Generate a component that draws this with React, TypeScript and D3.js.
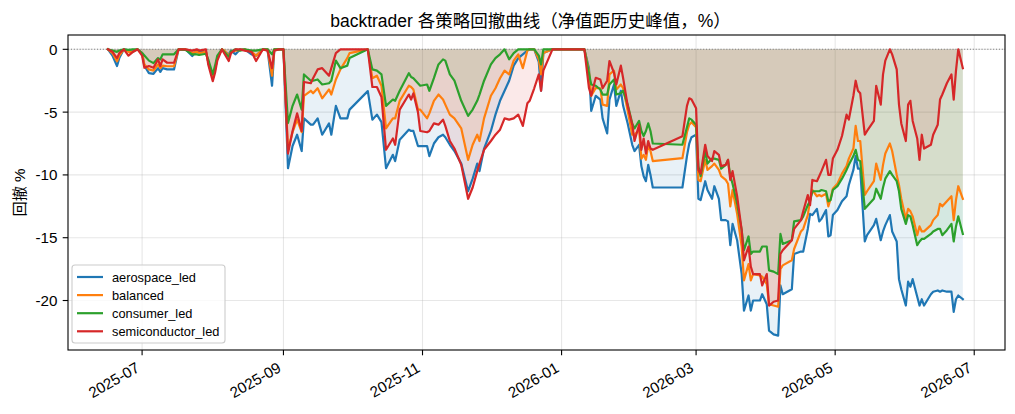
import React from "react";
import * as d3 from "d3";

// trading days
const dates = [
  "2025-06-16","2025-06-18","2025-06-20","2025-06-21","2025-06-23","2025-06-25","2025-06-27","2025-06-29",
  "2025-07-01","2025-07-02","2025-07-04","2025-07-06","2025-07-08","2025-07-09","2025-07-10","2025-07-12",
  "2025-07-15","2025-07-17","2025-07-20","2025-07-23","2025-07-25","2025-07-26","2025-07-29","2025-07-30",
  "2025-08-01","2025-08-02","2025-08-03","2025-08-05","2025-08-06","2025-08-08","2025-08-09","2025-08-11",
  "2025-08-13","2025-08-15","2025-08-18","2025-08-20","2025-08-23","2025-08-25","2025-08-27","2025-08-28",
  "2025-08-30","2025-09-01","2025-09-03","2025-09-05","2025-09-07","2025-09-09","2025-09-10","2025-09-13",
  "2025-09-14","2025-09-16","2025-09-18","2025-09-21","2025-09-22","2025-09-24","2025-09-26","2025-09-29",
  "2025-09-30","2025-10-08","2025-10-10","2025-10-12","2025-10-14","2025-10-16","2025-10-19","2025-10-20",
  "2025-10-22","2025-10-26","2025-10-27","2025-10-28","2025-10-30","2025-10-31","2025-11-03","2025-11-04",
  "2025-11-06","2025-11-08","2025-11-10","2025-11-11","2025-11-13","2025-11-15","2025-11-18","2025-11-21",
  "2025-11-23","2025-11-25","2025-11-26","2025-11-28","2025-12-01","2025-12-03","2025-12-05","2025-12-07",
  "2025-12-09","2025-12-11","2025-12-13","2025-12-15","2025-12-17","2025-12-18","2025-12-20","2025-12-22",
  "2025-12-23","2025-12-24","2025-12-28","2026-01-11","2026-01-13","2026-01-14","2026-01-16","2026-01-18",
  "2026-01-19","2026-01-21","2026-01-22","2026-01-24","2026-01-25","2026-01-27","2026-01-28","2026-01-30",
  "2026-02-01","2026-02-02","2026-02-04","2026-02-05","2026-02-06","2026-02-07","2026-02-08","2026-02-09",
  "2026-02-10","2026-02-23","2026-02-25","2026-02-26","2026-02-27","2026-03-01","2026-03-02","2026-03-03",
  "2026-03-05","2026-03-06","2026-03-08","2026-03-09","2026-03-11","2026-03-12","2026-03-14","2026-03-15",
  "2026-03-16","2026-03-17","2026-03-19","2026-03-21","2026-03-22","2026-03-24","2026-03-25","2026-03-26",
  "2026-03-29","2026-03-30","2026-04-01","2026-04-02","2026-04-04","2026-04-06","2026-04-07","2026-04-08",
  "2026-04-12","2026-04-13","2026-04-16","2026-04-17","2026-04-19","2026-04-20","2026-04-21","2026-04-23",
  "2026-04-24","2026-04-25","2026-04-27","2026-04-28","2026-04-29","2026-04-30","2026-05-02","2026-05-04",
  "2026-05-06","2026-05-07","2026-05-09","2026-05-10","2026-05-11","2026-05-12","2026-05-14","2026-05-15",
  "2026-05-18","2026-05-19","2026-05-21","2026-05-22","2026-05-23","2026-05-25","2026-05-26","2026-05-28",
  "2026-05-29","2026-05-30","2026-06-01","2026-06-02","2026-06-03","2026-06-04","2026-06-06","2026-06-07",
  "2026-06-08","2026-06-09","2026-06-12","2026-06-13","2026-06-15","2026-06-16","2026-06-17","2026-06-19",
  "2026-06-21","2026-06-22","2026-06-23","2026-06-24","2026-06-26",
];

const aerospace = [
  0,-0.5,-1.33,-0.7,0,-0.1,-0.2,0,
  -0.3,-1.3,-1.9,-1.95,-1.5,-1.8,-1.5,-1.6,
  -1.6,0,0,-0.53,-0.1,-0.2,-0.2,-1.0,
  -2.3,-1.6,-0.7,0,-0.2,-0.4,-0.1,-0.4,
  0,0,-0.4,-0.5,0,0,-2.9,0,
  0,0,-9.47,-7.7,-6.8,-8.1,-5.5,-6.0,
  -6.0,-5.5,-6.8,-5.9,-6.8,-4.5,-5.5,-5.5,
  -4.8,-3.33,-5.6,-5.2,-5.8,-9.47,-8.4,-8.9,
  -7.2,-6.4,-6.5,-6.5,-7.7,-7.7,-7.7,-8.5,
  -7.5,-7.0,-6.8,-7.0,-7.6,-8.1,-9.1,-11.3,
  -10.3,-9.1,-9.7,-7.9,-6.5,-5.2,-4.1,-3.3,
  -2.5,-1.3,-0.7,-0.4,-0.1,0,0,-1.0,
  -3.3,-0.3,0,0,-1.5,-4.9,-3.7,-4.0,
  -5.5,-6.7,-4.0,-2.8,-4.5,-3.3,-4.5,-5.9,
  -7.6,-8.1,-7.6,-9.3,-10.1,-10.5,-9.2,-10.0,
  -11.0,-11.0,-8.5,-7.5,-7.0,-6.8,-11.9,-12.0,
  -10.5,-11.2,-11.9,-10.9,-11.9,-13.6,-13.6,-13.7,
  -15.6,-13.9,-15.2,-17.9,-20.8,-19.6,-20.8,-20.0,
  -20.0,-19.5,-20.3,-22.4,-22.7,-22.8,-18.8,-19.5,
  -19.1,-16.3,-16.1,-16.1,-14.3,-13.1,-13.2,-12.7,
  -13.7,-13.5,-12.8,-14.9,-14.8,-13.2,-12.8,-12.1,
  -11.7,-10.8,-9.6,-8.5,-9.5,-9.5,-15.3,-14.8,
  -14.0,-13.5,-15.2,-14.5,-14.0,-13.2,-14.5,-15.3,
  -18.3,-19.1,-20.4,-18.5,-18.9,-18.3,-19.7,-20.4,
  -19.9,-20.4,-19.5,-19.3,-19.2,-19.3,-19.2,-19.3,
  -19.3,-20.9,-19.9,-19.6,-19.9,
];

const balanced = [
  0,-0.3,-0.95,-0.5,0,-0.2,-0.2,0,
  -0.3,-1.2,-1.6,-1.7,-1.2,-1.5,-1.3,-1.35,
  -1.35,0,0,-0.3,-0.2,-0.3,-0.2,-1.0,
  -2.3,-1.6,-0.7,0,-0.1,-0.5,-0.2,-0.1,
  -0.05,0,-0.2,-0.5,0,0,-2.1,0,
  0,0,-8.0,-6.6,-5.6,-6.6,-3.7,-3.3,
  -3.5,-3.1,-3.9,-3.2,-3.6,-2.4,-1.6,-0.7,
  -0.3,0,-2.3,-2.1,-2.9,-6.3,-5.5,-5.5,
  -4.1,-2.9,-3.0,-3.2,-4.8,-4.8,-5.5,-5.1,
  -4.1,-3.6,-4.0,-4.4,-5.2,-5.5,-6.3,-8.8,
  -7.6,-6.8,-7.3,-5.5,-3.7,-3.1,-2.3,-1.7,
  -2.0,-0.9,-0.4,-1.5,-0.1,0,0,-0.8,
  -2.0,-0.3,0,0,-1.7,-3.7,-3.07,-3.1,
  -4.4,-4.5,-2.0,-1.7,-3.2,-2.8,-3.1,-4.9,
  -6.8,-6.8,-6.4,-8.7,-8.4,-8.8,-7.6,-8.1,
  -8.9,-8.67,-6.6,-6.0,-5.8,-6.2,-10.4,-10.5,
  -8.8,-9.6,-9.3,-9.1,-9.6,-10.1,-10.4,-10.7,
  -12.5,-11.2,-13.1,-15.7,-18.4,-17.1,-18.4,-17.9,
  -18.0,-18.1,-18.7,-20.3,-20.4,-20.5,-17.5,-17.2,
  -16.8,-15.9,-14.5,-14.3,-13.2,-12.0,-11.2,-11.7,
  -11.6,-11.7,-11.5,-12.5,-11.9,-11.1,-10.7,-9.9,
  -9.3,-8.7,-7.9,-6.1,-7.3,-7.3,-11.6,-11.3,
  -10.5,-9.1,-10.4,-9.2,-8.3,-7.5,-8.1,-10.0,
  -10.8,-11.9,-13.5,-12.7,-12.9,-13.3,-14.8,-14.1,
  -14.5,-14.5,-14.0,-13.6,-13.2,-12.3,-12.5,-12.1,
  -11.7,-13.6,-12.0,-10.9,-11.9,
];

const consumer = [
  0,-0.1,-0.2,-0.1,0,-0.05,0,0,
  -0.3,-0.5,-0.9,-1.1,-0.7,-0.8,-0.4,-0.4,
  -0.4,0,-0.05,-0.4,-0.4,-0.45,-0.35,-0.8,
  -2.0,-1.3,-0.5,0,-0.2,-0.6,-0.2,0,
  -0.1,0,-0.1,-0.1,0,0,-0.4,0,
  0,0,-5.87,-4.5,-3.6,-4.8,-2.0,-2.5,
  -2.5,-2.4,-2.8,-2.7,-2.5,-0.9,-1.5,-1.3,
  -0.7,0,-1.6,-1.7,-2.0,-4.5,-4.0,-4.1,
  -3.3,-1.9,-2.2,-2.3,-2.7,-2.9,-2.8,-3.3,
  -2.3,-1.2,-0.8,-0.9,-2.0,-2.5,-4.1,-5.3,
  -4.8,-4.1,-3.6,-2.5,-1.2,-0.7,-0.4,0,
  -0.8,-0.3,0,0,0,0,0,-0.5,
  -1.2,0,0,0,-1.9,-2.8,-2.9,-3.2,
  -3.6,-3.6,-2.8,-2.4,-3.6,-3.5,-3.3,-4.4,
  -5.9,-6.3,-5.7,-6.5,-6.9,-6.5,-5.9,-6.5,
  -7.5,-7.6,-6.2,-5.5,-5.6,-6.0,-9.3,-10.1,
  -8.1,-9.1,-8.7,-8.7,-8.8,-9.5,-9.2,-8.8,
  -10.1,-10.7,-12.3,-14.4,-16.0,-14.9,-16.3,-16.1,
  -16.1,-15.7,-15.7,-17.6,-17.7,-17.9,-14.7,-15.5,
  -15.2,-13.7,-13.6,-13.3,-12.4,-12.1,-11.3,-11.3,
  -11.3,-11.2,-11.3,-12.1,-12.0,-11.2,-10.9,-10.3,
  -9.6,-9.2,-8.5,-8.0,-8.8,-8.9,-12.7,-12.5,
  -11.9,-11.1,-11.9,-11.0,-10.3,-9.7,-10.0,-10.5,
  -11.3,-12.7,-13.9,-13.2,-13.3,-14.0,-15.6,-15.3,
  -15.1,-15.1,-14.7,-14.5,-14.3,-14.3,-14.8,-14.4,
  -13.9,-15.3,-14.1,-13.3,-14.7,
];

const semiconductor = [
  0,-0.2,-0.7,-0.3,0,-0.5,-0.2,0,
  -0.5,-1.47,-1.33,-1.47,-0.8,-1.33,-0.8,-1.07,
  -1.07,0,0,-0.1,0,-0.1,0,-1.2,
  -2.53,-1.87,-0.9,0,-0.3,-0.93,-0.3,0,
  0,-0.1,-0.2,-0.93,0,-0.1,-1.5,-0.1,
  0,0,-8.3,-6.5,-5.1,-6.5,-2.6,-2.7,
  -2.3,-1.6,-1.5,-2.1,-1.5,-0.3,0,0,
  0,0,-3.0,-3.0,-3.8,-8.0,-7.1,-7.6,
  -4.8,-3.6,-4.0,-3.5,-5.0,-6.5,-6.6,-6.5,
  -5.9,-6.0,-5.6,-6.1,-7.3,-7.9,-9.2,-11.9,
  -11.0,-9.7,-9.1,-8.0,-7.3,-6.8,-6.4,-5.5,
  -5.6,-5.5,-5.2,-6.1,-4.3,-4.1,-3.1,-2.0,
  -3.3,-1.7,0,0,-3.07,-3.7,-2.27,-2.4,
  -3.1,-2.5,-0.93,-1.87,-2.8,-1.3,-2.3,-4.5,
  -6.0,-7.3,-6.0,-8.0,-7.1,-8.3,-7.3,-7.9,
  -8.0,-6.93,-4.5,-3.9,-4.0,-4.7,-9.6,-9.9,
  -7.6,-8.5,-8.9,-8.1,-8.4,-9.3,-9.2,-8.8,
  -10.4,-9.7,-11.7,-14.4,-16.8,-15.7,-17.3,-17.9,
  -17.9,-18.8,-17.9,-20.4,-20.1,-20.0,-16.3,-16.0,
  -15.2,-14.3,-13.6,-12.9,-11.6,-12.4,-10.4,-10.5,
  -10.1,-9.7,-8.8,-10.0,-10.0,-8.7,-8.0,-6.9,
  -5.2,-5.6,-3.7,-2.5,-3.3,-3.5,-6.8,-6.5,
  -5.7,-2.9,-4.4,-2.0,-0.9,0,-0.4,-1.6,
  -4.4,-5.9,-7.3,-4.4,-4.1,-5.7,-7.1,-8.8,
  -6.8,-7.9,-7.6,-6.8,-6.0,-4.0,-3.6,-2.7,
  -2.0,-4.0,-1.7,0,-1.5,
];

const seriesNames = ["aerospace_led", "balanced", "consumer_led", "semiconductor_led"];
const seriesValues = [aerospace, balanced, consumer, semiconductor];
const colors = ["#1f77b4", "#ff7f0e", "#2ca02c", "#d62728"];

const yTicks = [0, -5, -10, -15, -20];
const xTickDates = ["2025-07-01", "2025-09-01", "2025-11-01", "2026-01-01", "2026-03-01", "2026-05-01", "2026-07-01"];

const title = "backtrader 各策略回撤曲线（净值距历史峰值，%）";
const yLabel = "回撤 %";

const W = 1015;
const H = 414;
const left = 68, right = 1005, top = 35, bottom = 350;
const font = "'Liberation Sans', 'Noto Sans CJK SC', sans-serif";
const tickLen = 5.3;

export default function App() {
  const parse = d3.timeParse("%Y-%m-%d");
  const xs = dates.map((d) => parse(d) as Date);

  const x = d3.scaleTime()
    .domain([new Date(2025, 4, 29, 12), new Date(2026, 6, 14, 12)])
    .range([left, right]);

  const minV = d3.min(seriesValues.flat()) as number;
  const pad = (0 - minV) * 0.05;
  const y = d3.scaleLinear().domain([minV - pad, pad]).range([bottom, top]);

  const line = d3.line<number>().x((_, i) => x(xs[i])).y((v) => y(v));
  const area = d3.area<number>().x((_, i) => x(xs[i])).y0(y(0)).y1((v) => y(v));
  const fmt = d3.timeFormat("%Y-%m");

  return (
    <svg width={W} height={H} style={{ position: "absolute", left: 0, top: 0, background: "#fff" }} fontFamily={font}>
      <rect x={0} y={0} width={W} height={H} fill="#fff" />
      {/* grid */}
      {yTicks.map((t) => (
        <line key={"gy" + t} x1={left} x2={right} y1={y(t)} y2={y(t)} stroke="#b0b0b0" strokeOpacity={0.3} strokeWidth={1.1} />
      ))}
      {xTickDates.map((t) => {
        const px = x(parse(t) as Date);
        return <line key={"gx" + t} x1={px} x2={px} y1={top} y2={bottom} stroke="#b0b0b0" strokeOpacity={0.3} strokeWidth={1.1} />;
      })}
      {/* fills */}
      {seriesValues.map((vals, i) => (
        <path key={"a" + i} d={area(vals) || ""} fill={colors[i]} fillOpacity={0.1} stroke="none" />
      ))}
      {/* zero line */}
      <line x1={left} x2={right} y1={y(0)} y2={y(0)} stroke="gray" strokeWidth={1.1} strokeDasharray="1.1,1.8" />
      {/* lines */}
      {seriesValues.map((vals, i) => (
        <path key={"l" + i} d={line(vals) || ""} fill="none" stroke={colors[i]} strokeWidth={2.2} strokeLinejoin="round" strokeLinecap="square" />
      ))}
      {/* axes frame */}
      <rect x={left} y={top} width={right - left} height={bottom - top} fill="none" stroke="#000" strokeWidth={1.1} />
      {/* y ticks */}
      {yTicks.map((t) => (
        <g key={"yt" + t}>
          <line x1={left - tickLen} x2={left} y1={y(t)} y2={y(t)} stroke="#000" strokeWidth={1.1} />
          <text x={left - 10.5} y={y(t)} textAnchor="end" dominantBaseline="central" fontSize={15.2} fill="#000">{String(t)}</text>
        </g>
      ))}
      {/* x ticks */}
      {xTickDates.map((t) => {
        const dt = parse(t) as Date;
        const px = x(dt);
        return (
          <g key={"xt" + t}>
            <line x1={px} x2={px} y1={bottom} y2={bottom + tickLen} stroke="#000" strokeWidth={1.1} />
            <text transform={`translate(${px - 7},${bottom + 11})  rotate(-30)`} textAnchor="end" dominantBaseline="hanging" fontSize={15.2} fill="#000">{fmt(dt)}</text>
          </g>
        );
      })}
      {/* labels */}
      <text x={(left + right) / 2 - 6} y={27} textAnchor="middle" fontSize={17.5} fill="#000">{title}</text>
      <text transform={`translate(25,${(top + bottom) / 2}) rotate(-90)`} textAnchor="middle" fontSize={15.2} fill="#000">{yLabel}</text>
      {/* legend */}
      <rect x={72} y={265} width={153} height={78} rx={3} fill="#fff" fillOpacity={0.8} stroke="#cccccc" strokeWidth={1.1} />
      {seriesNames.map((n, i) => {
        const ry = 277 + i * 18.1;
        return (
          <g key={"lg" + n}>
            <line x1={77} x2={103} y1={ry} y2={ry} stroke={colors[i]} strokeWidth={2.2} />
            <text x={112} y={ry} dominantBaseline="central" fontSize={12.8} fill="#000">{n}</text>
          </g>
        );
      })}
    </svg>
  );
}
